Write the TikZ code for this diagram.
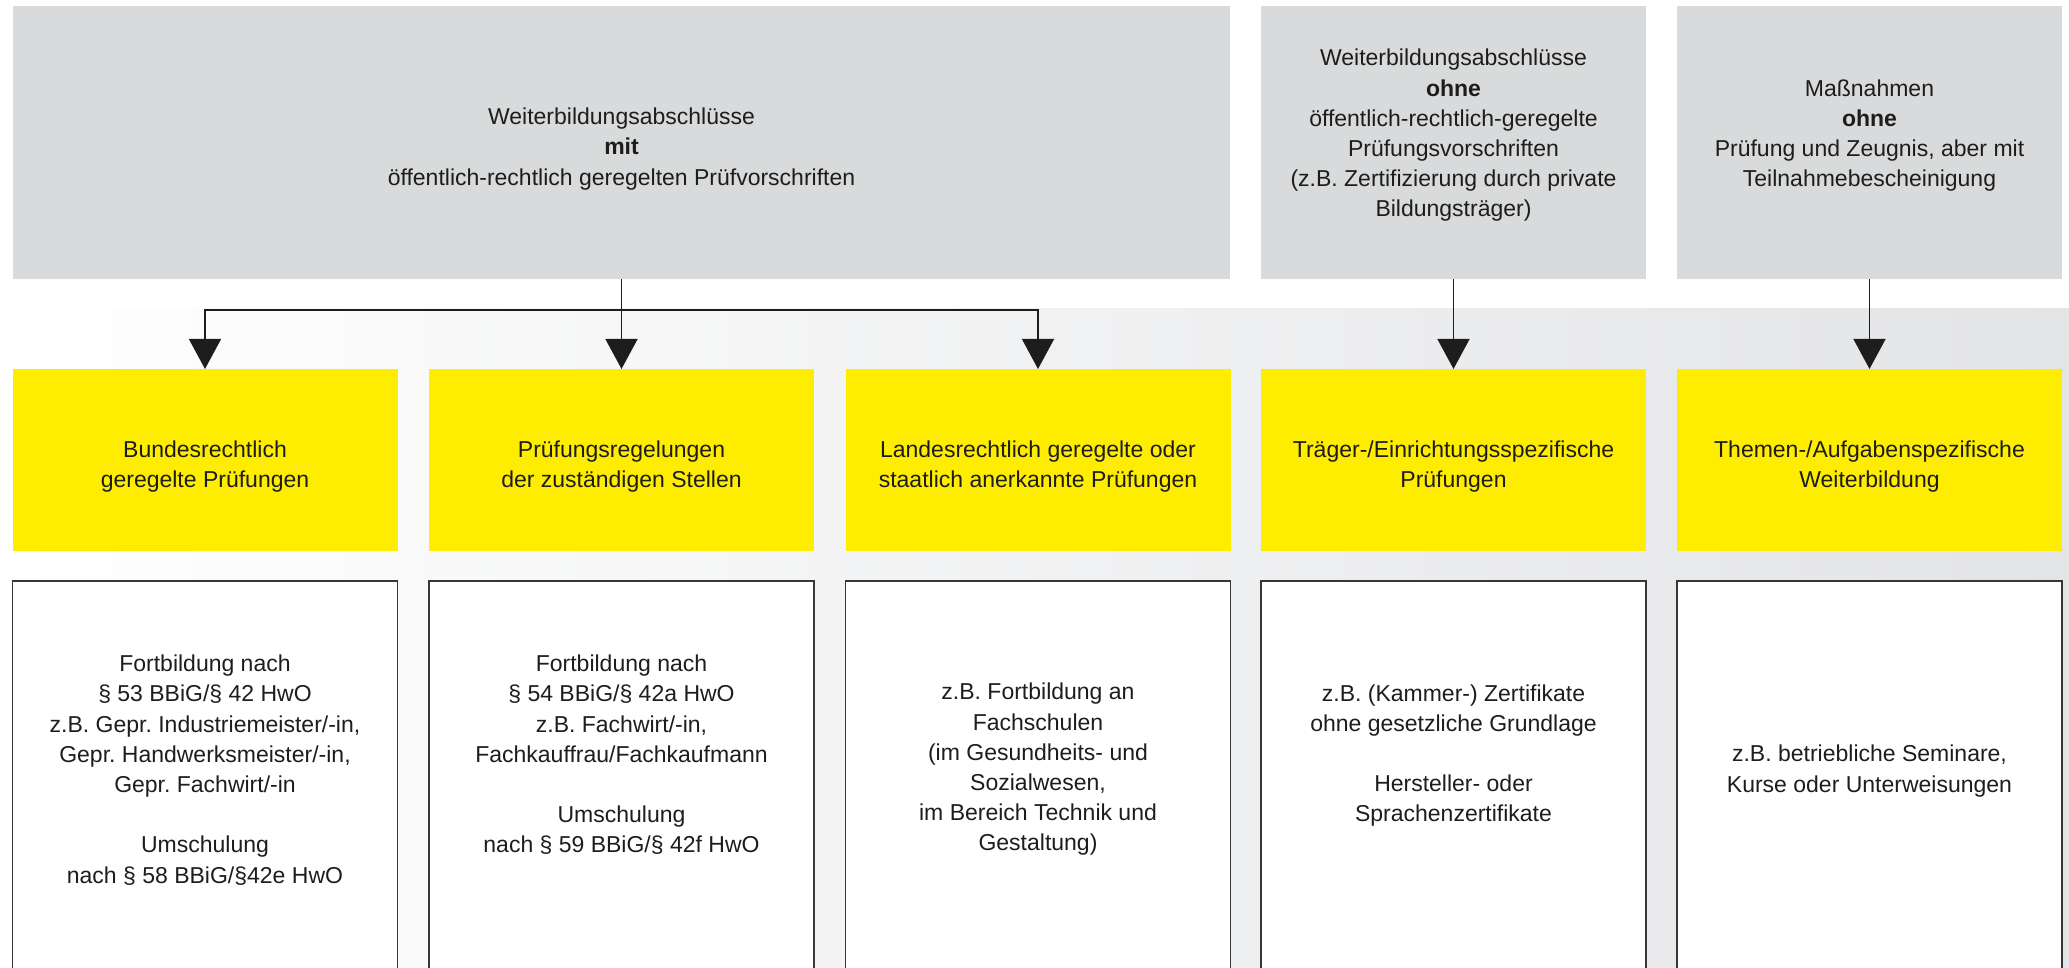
\documentclass[tikz,border=0pt]{standalone}
\usepackage{fontspec}
\setmainfont{Liberation Sans}
\usetikzlibrary{arrows.meta}
\definecolor{boxgrey}{RGB}{217,218,220}
\definecolor{boxyellow}{RGB}{255,237,0}
\definecolor{bgend}{RGB}{227,228,230}
\definecolor{ink}{RGB}{29,29,27}
\definecolor{edgegrey}{RGB}{55,55,55}
\frenchspacing
\begin{document}
\begin{tikzpicture}[x=0.5pt,y=-0.5pt,
  greybox/.style={rectangle, fill=boxgrey, draw=none, inner sep=0pt, outer sep=0pt, minimum height=136.5pt},
  yellowbox/.style={rectangle, fill=boxyellow, draw=none, inner sep=0pt, outer sep=0pt, minimum width=192.5pt, minimum height=91pt},
  whitebox/.style={rectangle, fill=white, draw=edgegrey, line width=0.7pt, inner sep=0pt, outer sep=0pt, minimum width=192.5pt, minimum height=209.5pt},
  txt/.style={font=\fontsize{11.5pt}{15.1pt}\selectfont\frenchspacing, align=center, text=ink, inner sep=0pt},
  arr/.style={draw=ink, line width=0.7pt, -{Triangle[width=16pt,length=15pt]}}]
\useasboundingbox (0,0) rectangle (2069,968);
\clip (0,0) rectangle (2069,968);
\fill[white] (0,0) rectangle (2069,968);
\shade[left color=white, right color=bgend] (0,309) rectangle (2069,968);

% top grey boxes
\node[greybox, minimum width=608.5pt] (g1) at (621.5,142.5) {};
\node[greybox, minimum width=192.5pt] (g2) at (1453.5,142.5) {};
\node[greybox, minimum width=192.5pt] (g3) at (1869.5,142.5) {};
\node[txt] (tg1) at (621.5,149) {Weiterbildungsabschlüsse\\ \textbf{mit}\\ öffentlich-rechtlich geregelten Prüfvorschriften};
\node[txt] (tg2) at (1453.5,135.5) {Weiterbildungsabschlüsse\\ \textbf{ohne}\\ öffentlich-rechtlich-geregelte\\ Prüfungsvorschriften\\ (z.B. Zertifizierung durch private\\ Bildungsträger)};
\node[txt] (tg3) at (1869.5,135.5) {Maßnahmen\\ \textbf{ohne}\\ Prüfung und Zeugnis, aber mit\\ Teilnahmebescheinigung};

% yellow boxes
\node[yellowbox] (y1) at (205,460) {};
\node[yellowbox] (y2) at (621.5,460) {};
\node[yellowbox] (y3) at (1038,460) {};
\node[yellowbox] (y4) at (1453.5,460) {};
\node[yellowbox] (y5) at (1869.5,460) {};
\node[txt] (ty1) at (205,466.5) {Bundesrechtlich\\ geregelte Prüfungen};
\node[txt] (ty2) at (621.5,466.5) {Prüfungsregelungen\\ der zuständigen Stellen};
\node[txt] (ty3) at (1038,466.5) {Landesrechtlich geregelte oder\\ staatlich anerkannte Prüfungen};
\node[txt] (ty4) at (1453.5,466.5) {Träger-/Einrichtungsspezifische\\ Prüfungen};
\node[txt] (ty5) at (1869.5,466.5) {Themen-/Aufgabenspezifische\\ Weiterbildung};

% white boxes
\node[whitebox] (w1) at (205,790.5) {};
\node[whitebox] (w2) at (621.5,790.5) {};
\node[whitebox] (w3) at (1038,790.5) {};
\node[whitebox] (w4) at (1453.5,790.5) {};
\node[whitebox] (w5) at (1869.5,790.5) {};
\node[txt] (tw1) at (205,770) {Fortbildung nach\\ § 53 BBiG/§ 42 HwO\\ z.B. Gepr. Industriemeister/-in,\\ Gepr. Handwerksmeister/-in,\\ Gepr. Fachwirt/-in\\[15.1pt] Umschulung\\ nach § 58 BBiG/§42e HwO};
\node[txt] (tw2) at (621.5,755) {Fortbildung nach\\ § 54 BBiG/§ 42a HwO\\ z.B. Fachwirt/-in,\\ Fachkauffrau/Fachkaufmann\\[15.1pt] Umschulung\\ nach § 59 BBiG/§ 42f HwO};
\node[txt] (tw3) at (1038,769.5) {z.B. Fortbildung an\\ Fachschulen\\ (im Gesundheits- und\\ Sozialwesen,\\ im Bereich Technik und\\ Gestaltung)};
\node[txt] (tw4) at (1453.5,755.5) {z.B. (Kammer-) Zertifikate\\ ohne gesetzliche Grundlage\\[15.1pt] Hersteller- oder\\ Sprachenzertifikate};
\node[txt] (tw5) at (1869.5,771) {z.B. betriebliche Seminare,\\ Kurse oder Unterweisungen};

% connectors
\coordinate (hub) at (621.5,310);
\draw[arr] (g1.south) -- (y2.north);
\draw[arr] (hub) -| (y1.north);
\draw[arr] (hub) -| (y3.north);
\draw[arr] (g2.south) -- (y4.north);
\draw[arr] (g3.south) -- (y5.north);
\end{tikzpicture}
\end{document}
